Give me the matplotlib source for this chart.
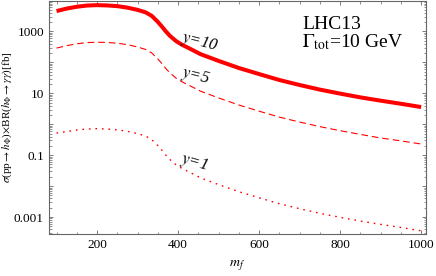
import matplotlib
matplotlib.use('Agg')
import matplotlib.pyplot as plt
from matplotlib.ticker import FixedLocator, LogLocator, FuncFormatter, NullFormatter

plt.rcParams['font.family'] = ['Liberation Serif', 'DejaVu Serif']
plt.rcParams['mathtext.fontset'] = 'stix'

# mass points (GeV) and cross sections (fb)
m_f = [100, 125, 150, 175, 200, 225, 250, 275, 300, 320, 335, 350, 360, 370, 380,
       395, 410, 430, 455, 500, 550, 600, 650, 700, 750, 800, 850, 900, 950, 1000]
sig_y10 = [4570, 5500, 6300, 6900, 7100, 6950, 6600, 5900, 5000, 4150, 3200, 2050, 1450, 1000, 720,
           490, 370, 275, 186, 112, 66, 42, 27, 18.6, 13.2, 9.8, 7.4, 5.8, 4.6, 3.6]
sig_y5 = [290, 348, 400, 437, 450, 440, 418, 374, 316, 262, 202, 130, 92, 63, 46,
          31, 23.5, 17.4, 11.8, 7.1, 4.2, 2.65, 1.7, 1.18, 0.84, 0.62, 0.47, 0.36, 0.29, 0.23]
sig_y1 = [0.52, 0.58, 0.65, 0.70, 0.72, 0.70, 0.66, 0.59, 0.50, 0.415, 0.32, 0.205, 0.145, 0.10, 0.072,
          0.049, 0.037, 0.0275, 0.0186, 0.0112, 0.0066, 0.0042, 0.0027, 0.00186, 0.00132,
          0.00098, 0.00074, 0.00058, 0.00046, 0.00036]

fig = plt.figure(figsize=(4.36, 2.76), dpi=100)
ax = fig.add_axes([0.112, 0.152, 0.865, 0.846])

ax.plot(m_f, sig_y10, color='red', linewidth=2.9, solid_capstyle='butt')
ax.plot(m_f, sig_y5, color='red', linewidth=0.8, dashes=(6, 3.5))
ax.plot(m_f, sig_y1, color='red', linewidth=1.0, dashes=(1.2, 3.5))

ax.set_yscale('log')
ax.set_xlim(81, 1012)
ax.set_ylim(10 ** -3.55, 10 ** 4.0)

# curve labels
ax.text(454, 445, '$y$=10', fontsize=12, rotation=-14, ha='center', va='center', style='italic')
ax.text(442, 35, '$y$=5', fontsize=12, rotation=-14, ha='center', va='center', style='italic')
ax.text(440, 0.059, '$y$=1', fontsize=12, rotation=-16, ha='center', va='center', style='italic')

ax.text(0.671, 0.880, 'LHC13', transform=ax.transAxes, fontsize=14, va='baseline')
ax.text(0.671, 0.800, r'$\Gamma_{\rm tot}$=10 GeV', transform=ax.transAxes, fontsize=14, va='baseline')

# ticks in Mathematica style
ax.xaxis.set_major_locator(FixedLocator([200, 400, 600, 800, 1000]))
ax.xaxis.set_minor_locator(FixedLocator(list(range(100, 1001, 50))))
ax.yaxis.set_major_locator(LogLocator(base=10, numticks=20))
ax.yaxis.set_minor_locator(LogLocator(base=10, subs=range(2, 10), numticks=20))
ax.yaxis.set_minor_formatter(NullFormatter())


def ylab(v, pos):
    labels = {1000: '1000', 10: '10', 0.1: '0.1', 0.001: '0.001'}
    for k, s in labels.items():
        if abs(v - k) < k * 1e-6:
            return s
    return ''


ax.yaxis.set_major_formatter(FuncFormatter(ylab))
ax.tick_params(which='both', direction='in', top=True, right=True, color='#666666', labelsize=9.5)
ax.tick_params(which='major', length=3, width=0.6)
ax.tick_params(which='minor', length=1.8, width=0.5)
for sp in ax.spines.values():
    sp.set_color('#666666')
    sp.set_linewidth(0.8)

ax.set_xlabel('$m_f$', fontsize=10, labelpad=6)
ax.set_ylabel(r'$\sigma$(pp$\rightarrow$$h_\Phi$)$\times$BR($h_\Phi$$\rightarrow$$\gamma\gamma$)[fb]',
              fontsize=8)
ax.yaxis.set_label_coords(-0.092, 0.5)

fig.savefig('out.png', dpi=100)
